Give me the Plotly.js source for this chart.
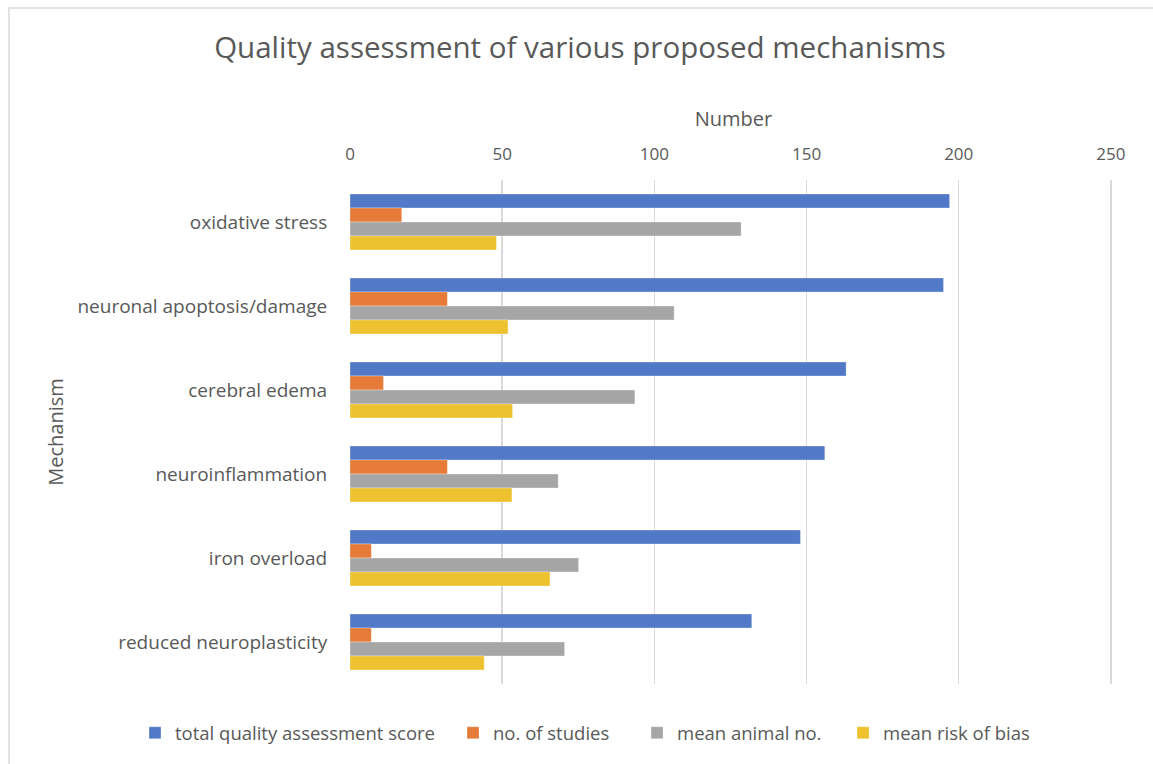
<!DOCTYPE html>
<html>
<head>
<meta charset="utf-8">
<script src="https://cdn.plot.ly/plotly-3.0.1.min.js"></script>
<style>
  html, body { margin: 0; padding: 0; background: #fff; overflow: hidden; }
  #chart { width: 1153px; height: 764px; }
  #frame { position: absolute; left: 8px; top: 7px; width: 1200px; height: 800px;
           border: 2px solid #e2e2e2; pointer-events: none; }
</style>
</head>
<body>
<div id="chart"></div>
<div id="frame"></div>
<script>
// Mechanisms, listed top to bottom
const mechanisms = [
  'oxidative stress',
  'neuronal apoptosis/damage',
  'cerebral edema',
  'neuroinflammation',
  'iron overload',
  'reduced neuroplasticity'
];

const totalQualityScore = [197, 195, 163, 156, 148, 132];
const numStudies        = [17, 32, 11, 32, 7, 7];
const meanAnimalNo      = [128.5, 106.5, 93.6, 68.4, 75.1, 70.5];
const meanRiskOfBias    = [48.1, 51.9, 53.4, 53.2, 65.7, 44.1];

const seriesNames  = ['total quality assessment score', 'no. of studies', 'mean animal no.', 'mean risk of bias'];
const seriesColors = ['#5279C7', '#E67A38', '#A6A6A6', '#EDC22E'];
const seriesValues = [totalQualityScore, numStudies, meanAnimalNo, meanRiskOfBias];

const xTicks = [0, 50, 100, 150, 200, 250];

const textColor = '#595959';
const font = 'Open Sans, Noto Sans, sans-serif';

// one legend box per series so the entries sit in a single spaced row
const legendIds = ['legend', 'legend2', 'legend3', 'legend4'];
const legendX   = [-0.2803, 0.1343, 0.3742, 0.6428];

const traces = seriesValues.map((vals, i) => ({
  type: 'bar',
  orientation: 'h',
  name: seriesNames[i],
  y: mechanisms,
  x: vals,
  legend: legendIds[i],
  marker: { color: seriesColors[i], line: { color: 'rgba(255,255,255,0.5)', width: 0.6 } },
  hoverinfo: 'x+y+name'
}));

const layout = {
  width: 1153,
  height: 764,
  paper_bgcolor: '#ffffff',
  plot_bgcolor: '#ffffff',
  font: { family: font, color: textColor },
  title: {
    text: 'Quality assessment of various proposed mechanisms',
    font: { size: 29.5, color: textColor, family: font },
    x: 0.503, xref: 'container', xanchor: 'center',
    y: 0.938, yref: 'container', yanchor: 'middle'
  },
  margin: { l: 350, r: 36, t: 180, b: 80, pad: 0 },
  barmode: 'group',
  bargap: 0.333,
  bargroupgap: 0,
  xaxis: {
    side: 'top',
    range: [0, 252],
    tickvals: xTicks,
    ticktext: xTicks.map(String),
    showgrid: true,
    gridcolor: '#d9d9d9',
    gridwidth: 1.5,
    zeroline: false,
    showline: false,
    ticks: 'outside',
    ticklen: 12,
    tickcolor: 'rgba(0,0,0,0)',
    tickfont: { size: 17, color: textColor },
    title: { text: 'Number', font: { size: 20, color: textColor }, standoff: 10 },
    fixedrange: true
  },
  yaxis: {
    type: 'category',
    categoryorder: 'array',
    categoryarray: mechanisms,
    autorange: 'reversed',
    showgrid: false,
    zeroline: false,
    showline: false,
    ticks: 'outside',
    ticklen: 18,
    tickcolor: 'rgba(0,0,0,0)',
    tickfont: { size: 19, color: textColor },
    title: { text: 'Mechanism', font: { size: 20, color: textColor }, standoff: 8 },
    fixedrange: true
  },
  showlegend: true
};

legendIds.forEach((id, i) => {
  layout[id] = {
    orientation: 'h',
    x: legendX[i], xanchor: 'left',
    y: -0.06, yanchor: 'top',
    font: { size: 18.5, color: textColor },
    bgcolor: 'rgba(0,0,0,0)',
    itemclick: false,
    itemdoubleclick: false
  };
});

Plotly.newPlot('chart', traces, layout, { displayModeBar: false, staticPlot: true });
</script>
</body>
</html>
